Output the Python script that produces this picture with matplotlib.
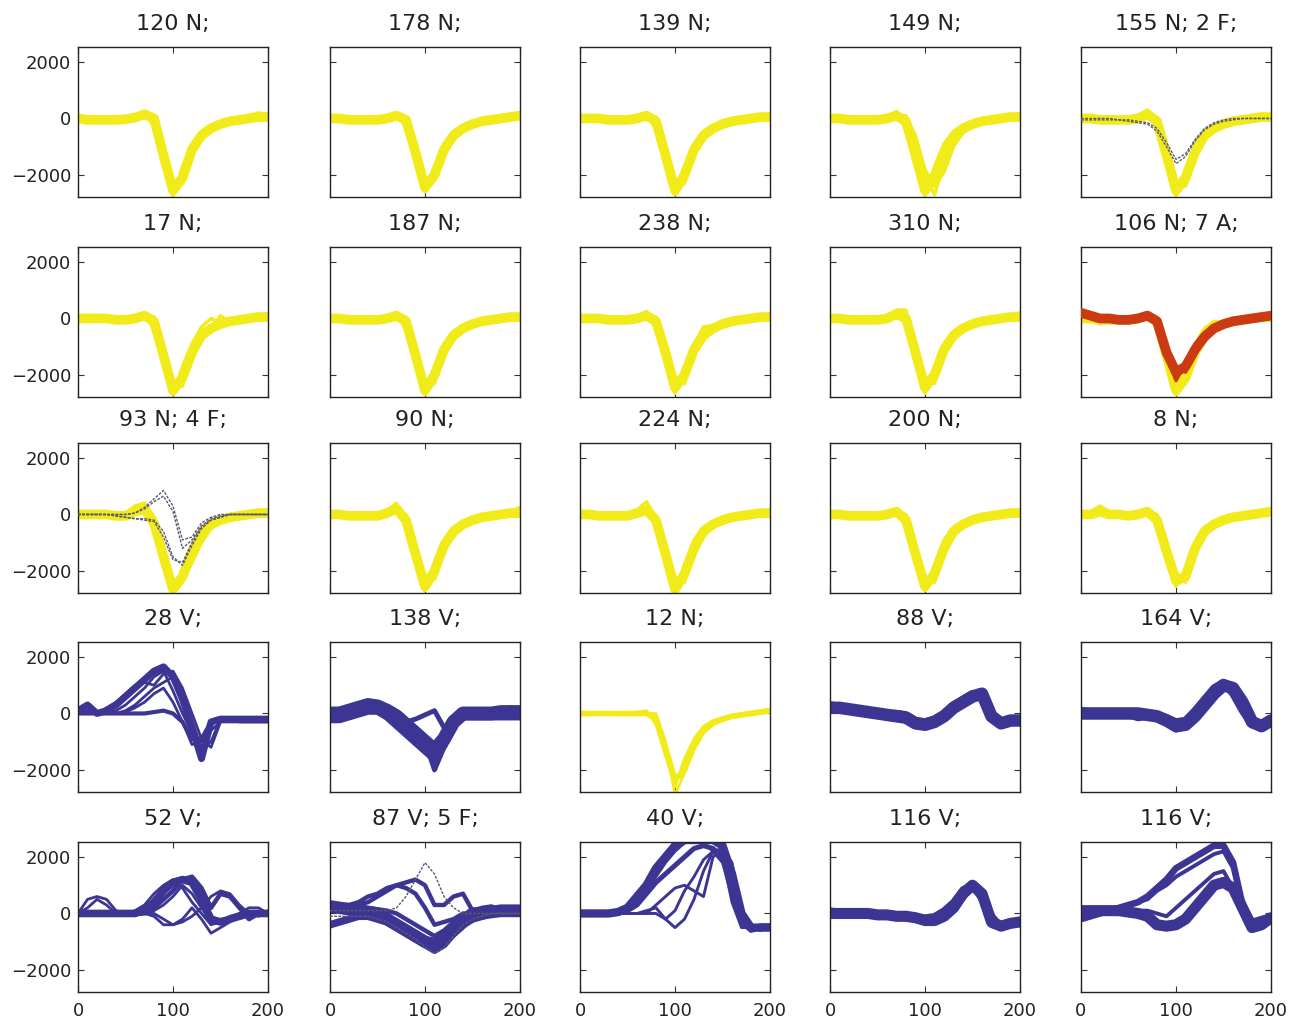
import numpy as np
import matplotlib
matplotlib.use("Agg")
import matplotlib.pyplot as plt

# ---------------- data ----------------
SAMPLES = list(range(0, 201, 10))

TITLES = ["120 N;", "178 N;", "139 N;", "149 N;", "155 N; 2 F;",
          "17 N;", "187 N;", "238 N;", "310 N;", "106 N; 7 A;",
          "93 N; 4 F;", "90 N;", "224 N;", "200 N;", "8 N;",
          "28 V;", "138 V;", "12 N;", "88 V;", "164 V;",
          "52 V;", "87 V; 5 F;", "40 V;", "116 V;", "116 V;"]

P01 = {"N": [[0,-50,-50,-50,-50,-30,30,150,0,-1300,-2550,-2100,-1100,-600,-350,-200,-100,-50,0,50,50],
             [150,-50,-100,-100,-50,0,50,250,-300,-1600,-2750,-1700,-900,-450,-250,-150,-50,0,100,200,100],
             [-100,-100,-50,-50,-50,-50,0,100,100,-1000,-2300,-2300,-1300,-750,-450,-250,-150,-100,-50,0,0]]}
P02 = {"N": [[0,0,-50,-50,-50,-50,0,100,-50,-1200,-2450,-2000,-1100,-600,-350,-200,-100,-50,0,50,100],
             [50,50,-100,0,-100,0,50,200,-300,-1500,-2600,-1700,-900,-450,-250,-150,-50,0,50,100,200],
             [-100,-100,-50,-100,-50,-100,-50,50,50,-900,-2250,-2200,-1300,-750,-450,-250,-150,-100,-50,0,50]]}
P03 = {"N": [[0,0,0,-50,-50,-50,0,100,-100,-1300,-2550,-2000,-1100,-600,-350,-200,-100,-50,0,50,50],
             [50,50,0,0,-50,0,50,200,-400,-1600,-2700,-1700,-900,-450,-250,-150,-50,0,50,100,150],
             [-100,-100,-50,-100,-100,-100,-50,50,50,-1000,-2300,-2300,-1300,-750,-450,-250,-150,-100,-50,0,0]]}
P04 = {"N": [[0,0,-50,-50,-50,-50,0,100,-100,-1300,-2550,-2100,-1200,-650,-350,-200,-100,-50,0,50,50],
             [100,0,-50,0,-50,0,50,250,-400,-1700,-2750,-1700,-900,-450,-250,-150,-50,0,50,100,150],
             [-100,-100,-100,-100,-100,-100,-50,50,100,-800,-2000,-2700,-1600,-900,-500,-300,-200,-100,-50,0,0],
             [-50,-50,-50,-50,-50,-50,0,100,50,-600,-1800,-2400,-1900,-1000,-500,-300,-150,-100,0,0,50]]}
P05 = {"N": [[0,0,-50,-50,-50,-50,0,150,-100,-1300,-2550,-2100,-1200,-600,-350,-200,-100,-50,0,50,50],
             [50,50,0,0,0,50,100,300,-300,-1600,-2750,-1800,-900,-450,-250,-150,-50,0,100,150,100],
             [-100,-100,-100,-100,-100,-100,-50,50,50,-1000,-2300,-2400,-1400,-750,-450,-250,-150,-100,-50,0,0]],
       "F": [[0,0,0,0,-50,-50,-100,-150,-350,-850,-1450,-1250,-750,-350,-150,-50,0,0,0,0,0],
             [-50,-50,-50,-50,-50,-100,-150,-200,-450,-1000,-1600,-1350,-800,-400,-200,-100,-50,0,0,0,0]]}
P06 = {"N": [[0,0,0,0,-50,-50,0,100,-100,-1300,-2550,-2100,-1200,-600,-350,-200,-100,-50,0,50,50],
             [100,50,0,0,-50,0,50,150,-400,-1700,-2700,-1700,-900,-300,0,-150,-50,0,50,100,150],
             [-100,-100,-100,-100,-100,-100,-50,50,50,-1000,-2300,-2400,-1300,-700,-400,100,-150,-100,-50,0,0]]}
P07 = {"N": [[0,0,-50,-50,-50,-50,0,100,-100,-1300,-2550,-2000,-1100,-600,-350,-200,-100,-50,0,50,50],
             [50,50,0,0,-50,0,50,200,-400,-1600,-2700,-1700,-900,-450,-250,-150,-50,0,50,100,150],
             [-100,-100,-100,-100,-100,-100,-50,50,50,-1000,-2300,-2300,-1300,-750,-450,-250,-150,-100,-50,0,0]]}
P08 = {"N": [[0,0,0,-50,-50,-50,0,100,-100,-1200,-2450,-2000,-1100,-600,-350,-200,-100,-50,0,50,50],
             [50,0,0,0,-50,0,50,250,-400,-1600,-2650,-1700,-900,-300,-250,-150,-50,0,50,100,100],
             [-100,-100,-100,-100,-100,-100,-50,50,50,-900,-2200,-2300,-1300,-750,-450,-250,-150,-100,-50,0,0]]}
P09 = {"N": [[0,0,-50,-50,-50,-50,0,150,0,-1200,-2450,-2000,-1100,-600,-350,-200,-100,-50,0,50,50],
             [100,50,0,0,0,50,100,300,300,-1400,-2650,-1700,-900,-450,-250,-150,-50,0,50,100,200],
             [-100,-100,-100,-100,-100,-100,-50,50,-100,-1000,-2200,-2300,-1300,-750,-450,-250,-150,-100,-50,0,0]]}
P10 = {"N": [[0,0,-50,-50,-50,-50,0,100,-100,-1300,-2550,-2100,-1200,-600,-350,-200,-100,-50,0,50,50],
             [50,0,-200,0,-50,0,50,200,-400,-1600,-2700,-1700,-900,-350,-100,-150,-50,0,50,100,150],
             [-100,-100,-100,-100,-100,-100,-50,50,50,-1000,-2300,-2300,-1300,-750,-450,-250,-150,-100,-50,0,0]],
       "A": [[200,100,0,0,-50,-50,0,100,-100,-1200,-1900,-1700,-1100,-650,-350,-200,-100,-50,0,50,100],
             [150,100,50,0,0,0,50,150,-200,-1300,-2200,-1600,-900,-500,-300,-150,-50,0,50,50,100],
             [100,50,0,0,-100,-100,-50,50,0,-1000,-1700,-1900,-1300,-700,-400,-250,-150,-100,-50,0,50]]}
P11 = {"N": [[0,0,0,0,-50,-50,100,200,-300,-1500,-2650,-2200,-1300,-700,-350,-200,-100,-50,0,50,50],
             [100,50,0,0,0,50,300,400,-100,-1200,-2750,-2300,-1500,-800,-400,-200,-100,0,50,100,150],
             [-100,-100,-100,-100,-100,-100,0,100,-500,-1700,-2400,-2400,-1700,-1000,-500,-250,-150,-100,-50,0,0]],
       "F": [[0,0,0,0,0,0,50,250,550,850,300,-900,-800,-300,-100,0,0,0,0,0,0],
             [0,0,0,0,0,0,50,200,450,650,100,-1200,-900,-400,-150,-50,0,0,0,0,0],
             [0,0,0,0,-50,-100,-150,-150,-200,-600,-1500,-1800,-1100,-500,-200,-100,0,0,0,0,0],
             [0,0,0,0,-50,-100,-150,-200,-250,-800,-1600,-1700,-1000,-450,-200,-100,0,0,0,0,0]]}
P12 = {"N": [[0,0,-50,-50,-50,-50,50,200,-200,-1400,-2550,-2000,-1100,-600,-350,-200,-100,-50,0,50,50],
             [100,50,0,0,0,50,150,400,-400,-1700,-2700,-1700,-900,-450,-250,-150,-50,0,50,100,250],
             [-100,-100,-100,-100,-100,-100,-50,100,0,-1100,-2300,-2300,-1300,-750,-450,-250,-150,-100,-50,0,0]]}
P13 = {"N": [[0,0,-50,-50,-50,-50,50,150,-200,-1400,-2650,-2100,-1200,-600,-350,-200,-100,-50,0,50,50],
             [50,0,0,0,0,50,150,450,-100,-1600,-2750,-1800,-900,-450,-250,-150,-50,0,50,100,100],
             [-100,-100,-100,-100,-100,-100,-50,50,-300,-1200,-2400,-2400,-1400,-750,-450,-250,-150,-100,-50,0,0]]}
P14 = {"N": [[0,0,-50,-50,-50,-50,0,100,-200,-1400,-2550,-2100,-1200,-600,-350,-200,-100,-50,0,50,50],
             [50,0,0,0,0,0,50,200,-400,-1600,-2700,-1800,-900,-450,-250,-150,-50,0,50,100,100],
             [-100,-100,-100,-100,-100,-100,-50,50,0,-1100,-2300,-2400,-1400,-750,-450,-250,-150,-100,-50,0,0]]}
P15 = {"N": [[0,0,100,0,0,-50,0,100,-200,-1300,-2350,-2200,-1200,-600,-350,-200,-100,-50,0,50,100],
             [50,100,300,100,0,0,50,200,-400,-1500,-2550,-1900,-1000,-450,-250,-150,-50,0,50,100,150],
             [-100,-100,0,-100,-100,-100,-50,50,0,-1000,-2100,-2400,-1400,-750,-450,-250,-150,-100,-50,0,50]]}
P16 = {"V": [[100,300,0,100,300,600,900,1200,1500,1650,1300,500,-500,-1600,-300,-200,-200,-200,-200,-200,-200],
             [0,0,0,0,0,0,0,0,50,100,0,-300,-900,-900,-300,-200,-200,-200,-200,-200,-200],
             [200,200,0,200,400,700,1000,1100,1000,1400,1500,900,0,-900,-1200,-300,-200,-200,-200,-200,-200],
             [0,0,0,0,0,100,300,600,900,1100,1300,600,-300,-1200,-1000,-200,-200,-250,-250,-250,-250],
             [0,0,0,0,0,50,200,400,700,900,400,-300,-1100,-1000,-400,-200,-200,-300,-300,-300,-300],
             [100,100,0,0,100,300,600,900,1300,1500,800,0,-700,-1400,-600,-300,-300,-300,-300,-300,-300]]}
P17 = {"V": [[0,0,100,200,300,250,100,-100,-400,-700,-1000,-1300,-900,-300,0,0,0,0,50,50,50],
             [-200,-200,-100,0,100,100,-100,-400,-700,-1000,-1300,-1600,-1100,-400,-100,-100,-100,-100,-100,-100,-100],
             [100,100,200,300,350,300,200,0,-300,-500,-800,-1100,-700,-200,100,100,100,100,150,200,150],
             [0,0,100,200,300,250,100,-100,-400,-700,-1000,-2000,-1200,-400,0,0,0,0,50,50,50],
             [0,0,100,200,300,250,100,-100,-300,-200,-50,100,-500,-300,0,0,0,0,50,50,50]]}
P18 = {"N": [[0,0,0,0,0,0,0,0,-200,-1200,-2350,-2000,-1100,-600,-350,-200,-100,-50,0,50,100],
             [50,0,-50,0,0,0,50,100,-400,-1500,-2600,-1600,-900,-450,-250,-150,-50,0,50,100,150],
             [-50,-50,0,0,-50,-50,-50,0,0,-1000,-2900,-2100,-1300,-700,-400,-250,-150,-100,-50,0,50]]}
P19 = {"V": [[200,200,150,100,50,0,-50,-100,-150,-350,-400,-300,-100,200,400,600,700,-100,-350,-250,-250],
             [300,250,200,150,100,50,0,0,-50,-250,-300,-200,0,300,500,700,600,-200,-400,-300,-200],
             [100,100,100,50,0,-50,-100,-200,-250,-450,-500,-400,-200,100,300,500,700,100,-300,-300,-300]]}
P20 = {"V": [[0,0,0,0,0,0,0,-50,-100,-250,-450,-400,-100,300,700,1000,900,400,-300,-450,-250],
             [100,50,0,0,0,0,0,0,-50,-150,-300,-250,100,500,900,1100,700,100,-400,-400,-200],
             [-100,-100,-100,-100,-100,-100,-200,-150,-200,-350,-600,-500,-200,100,500,900,1000,600,-200,-500,-300]]}
P21 = {"V": [[0,0,0,0,0,0,0,100,400,800,1100,1200,1100,500,-200,-300,-200,-100,0,0,0],
             [0,0,0,0,0,0,0,0,200,500,800,1200,1300,900,200,700,600,200,-200,0,0],
             [0,500,600,500,100,0,0,0,0,-200,-400,-300,-100,200,600,800,700,300,0,-100,100],
             [0,0,0,0,0,0,0,0,-100,-400,-400,-200,200,-200,-700,-500,-300,-100,0,0,0],
             [0,200,500,300,0,0,0,0,100,300,600,1000,700,200,-300,-200,-200,0,200,200,0],
             [0,0,0,0,0,0,100,300,700,1000,1200,900,400,0,-400,-300,-100,0,0,0,0]]}
P22 = {"V": [[250,200,150,100,50,0,-200,-400,-600,-800,-1000,-1100,-900,-600,-300,0,0,50,100,100,100],
             [-400,-300,-200,-100,-100,-200,-300,-500,-700,-900,-1100,-1300,-1100,-700,-400,-200,-100,0,0,0,0],
             [200,200,200,300,400,600,800,1000,1100,1200,1000,300,300,600,700,100,0,0,50,100,100],
             [200,200,300,400,600,700,900,1000,900,700,200,-400,-300,-200,0,0,0,100,200,100,100],
             [300,300,300,250,200,150,100,0,-200,-400,-600,-800,-600,-300,-100,100,200,250,100,100,200]],
       "F": [[100,100,100,100,100,100,100,200,600,1200,1800,1400,600,200,0,0,0,0,0,0,0],
             [-100,-100,-100,-100,-100,-200,-300,-500,-700,-900,-1200,-1400,-1200,-800,-400,-200,-100,0,0,0,0]]}
P23 = {"V": [[0,0,0,0,50,200,600,1000,1600,2000,2400,2600,2600,2600,2600,2400,1400,0,-500,-500,-500],
             [0,0,0,0,0,100,300,700,1100,1400,1700,2000,2300,2400,2300,2000,1000,-300,-600,-500,-500],
             [0,0,0,0,0,0,0,100,200,-200,-500,-200,500,1500,2200,2300,1500,-200,-600,-500,-400],
             [0,0,0,0,0,0,0,0,300,600,900,1000,800,600,2000,2300,1800,0,-500,-600,-500],
             [0,0,0,0,0,0,0,0,0,-200,100,800,1300,1900,2200,2000,400,-500,-500,-400,-400],
             [0,0,0,0,0,100,400,800,1300,1800,2200,2500,2600,2500,2200,1800,600,-400,-500,-500,-500]]}
P24 = {"V": [[0,0,0,0,0,-50,-50,-100,-100,-150,-250,-250,-100,200,700,1000,700,-300,-450,-350,-300],
             [100,50,0,0,0,0,0,-50,-50,-100,-150,-100,100,400,850,1000,500,-400,-500,-400,-300],
             [-100,-100,-100,-50,-50,-100,-100,-150,-200,-250,-350,-350,-200,100,500,900,800,0,-400,-350,-250]]}
P25 = {"V": [[100,100,100,100,100,50,0,-100,-400,-450,-400,-200,200,600,1000,1100,900,200,-500,-400,-150],
             [-200,-100,0,100,200,300,400,600,900,1200,1600,1800,2000,2200,2400,2400,1800,300,-300,-200,-100],
             [-100,0,0,100,200,300,400,500,800,1000,1300,1500,1700,1900,2100,2200,1600,200,-300,-200,-100],
             [0,0,0,50,100,100,100,100,0,-100,200,500,800,1100,1400,1500,900,200,-400,-300,-100],
             [200,150,100,100,100,50,0,-200,-500,-500,-400,-100,300,700,1100,1200,1000,300,-400,-500,-200]]}

PANELS = [P01, P02, P03, P04, P05, P06, P07, P08, P09, P10,
          P11, P12, P13, P14, P15, P16, P17, P18, P19, P20,
          P21, P22, P23, P24, P25]

X_TICKS = [0, 100, 200]
Y_TICKS = [-2000, 0, 2000]

# ---------------- style ----------------
COLORS = {"N": "#f2eb1a", "V": "#3d3593", "A": "#cc3a14", "F": "#5a5a70"}
MAIN_LW = [7, 7, 7, 7, 7, 7, 7, 7, 7, 7,
           7, 7, 7, 7, 7, 5, 10, 4, 9, 9,
           5.5, 9, 6, 8, 8]
W, H = 1293, 1021
COL_LEFT = [78, 330, 580, 830, 1081]
ROW_TOP = [47, 247, 443, 642, 842]
AX_W, AX_H = 190, 150

fig = plt.figure(figsize=(W / 100, H / 100), dpi=100)
x = np.array(SAMPLES)

for i, (title, panel) in enumerate(zip(TITLES, PANELS)):
    r, c = divmod(i, 5)
    ax = fig.add_axes([COL_LEFT[c] / W, 1 - (ROW_TOP[r] + AX_H) / H, AX_W / W, AX_H / H])
    for cls, traces in panel.items():
        col = COLORS[cls]
        for k, tr in enumerate(traces):
            if cls == "F":
                ax.plot(x, tr, color=col, lw=1.0, ls=(0, (2, 1)), zorder=4)
            else:
                if k == 0:
                    lw = MAIN_LW[i]
                elif cls == "V" and k == 1:
                    lw = max(2.5, MAIN_LW[i] * 0.6)
                else:
                    lw = max(2.0, MAIN_LW[i] * 0.35)
                z = 3 if cls == "A" else 2
                ax.plot(x, tr, color=col, lw=lw, solid_capstyle="round",
                        solid_joinstyle="round", zorder=z)
    ax.set_xlim(0, 200)
    ax.set_ylim(-2780, 2530)
    ax.set_xticks(X_TICKS)
    ax.set_yticks(Y_TICKS)
    ax.tick_params(direction="in", length=4, width=0.8, top=True, right=True,
                   labelsize=13, colors="#333333", labelcolor="#222222")
    ax.tick_params(axis="y", pad=5)
    ax.tick_params(axis="x", pad=7)
    if c != 0:
        ax.set_yticklabels([])
    if r != 4:
        ax.set_xticklabels([])
    for sp in ax.spines.values():
        sp.set_color("#222222")
        sp.set_linewidth(1.0)
    ax.set_title(title, fontsize=16, pad=12, color="#222222")

fig.savefig("out.png", dpi=100)
